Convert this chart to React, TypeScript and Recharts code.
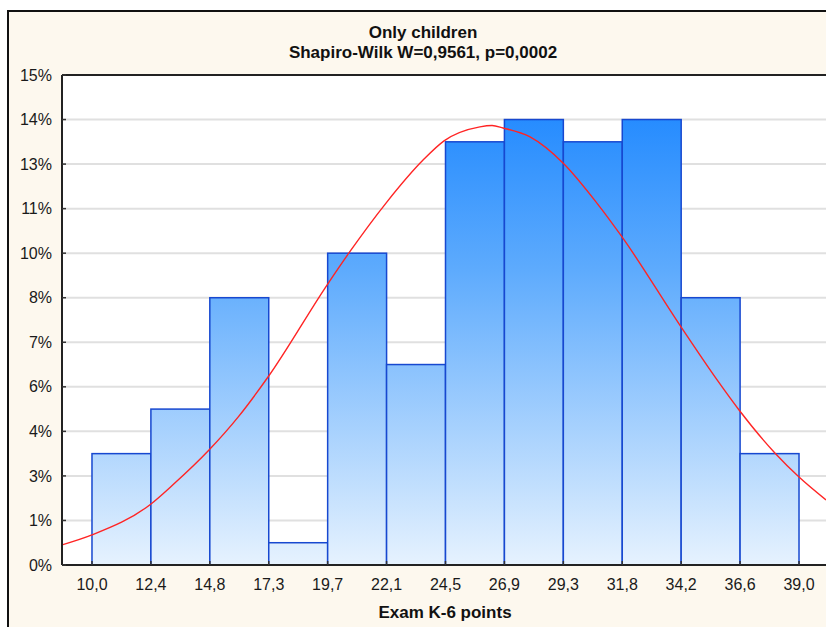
import React from 'react';
import { ComposedChart, Bar, Line, XAxis, YAxis, CartesianGrid } from 'recharts';

// histogram bins (Exam K-6 points), edges shown on the x axis
const binEdges = [10.0, 12.417, 14.833, 17.25, 19.667, 22.083, 24.5, 26.917, 29.333, 31.75, 34.167, 36.583, 39.0];
const xTickLabels = ['10,0', '12,4', '14,8', '17,3', '19,7', '22,1', '24,5', '26,9', '29,3', '31,8', '34,2', '36,6', '39,0'];

// number of children per bin (N = 144)
const binCounts = [5, 7, 12, 1, 14, 9, 19, 20, 19, 20, 12, 5];

// fitted normal curve (x, expected count)
const curveX = [8.77, 10.0, 12.42, 13.32, 14.8, 16.0, 17.22, 19.64, 20.54, 22.06, 23.58, 24.44, 25.91, 26.41, 26.86, 27.97, 29.32, 30.71, 31.74, 34.16, 35.64, 36.54, 38.01, 39.0, 40.11];
const curveY = [0.9, 1.35, 2.74, 3.6, 5.16, 6.65, 8.44, 12.57, 14.01, 16.25, 18.18, 19.04, 19.67, 19.73, 19.62, 19.22, 18.05, 16.25, 14.73, 10.69, 8.31, 6.96, 5.03, 3.95, 2.92];

// y axis: counts, labelled as percent of 144
const yTicks = [0, 2, 4, 6, 8, 10, 12, 14, 16, 18, 20, 22];
const yTickLabels = ['0%', '1%', '3%', '4%', '6%', '7%', '8%', '10%', '11%', '13%', '14%', '15%'];

const X_MIN = 8.77;
const X_MAX = 40.23;

const CHART_W = 840;
const CHART_H = 627;
const MARGIN = { top: 74, right: 10, bottom: 32, left: 0 };
const PLOT_LEFT = 62;
const PLOT_RIGHT = 829;
const PLOT_TOP = 75;
const PLOT_BOTTOM = 565;

const FONT = '"Liberation Sans", Arial, sans-serif';

const barData = binCounts.map((c, i) => ({ x: (binEdges[i] + binEdges[i + 1]) / 2, count: c }));
const curveData = curveX.map((x, i) => ({ x, curve: curveY[i] }));

// pixel width of one bin on the x scale
const barPx = ((PLOT_RIGHT - PLOT_LEFT) / (X_MAX - X_MIN)) * (binEdges[1] - binEdges[0]);

// recharts squeezes bars on a number axis, so widen them around their centre
const HistBar = (props: any) => {
    const { x, y, width, height } = props;
    if (height == null || height <= 0) return null;
    const cx = x + width / 2;
    return (
        <rect
            x={cx - barPx / 2}
            y={y}
            width={barPx}
            height={height}
            fill="url(#barFill)"
            stroke="#1748d0"
            strokeWidth={1.5}
        />
    );
};

const fmtX = (v: number) => {
    const i = binEdges.indexOf(v);
    return i >= 0 ? xTickLabels[i] : '';
};
const fmtY = (v: number) => {
    const i = yTicks.indexOf(v);
    return i >= 0 ? yTickLabels[i] : '';
};

const axisLine = { stroke: '#222', strokeWidth: 2 };
const tickLine = { stroke: '#333', strokeWidth: 1.5 };
const tickStyle = { fill: '#1a1a1a', fontSize: 16, fontFamily: FONT };

export default function App() {
    return (
        <div style={{ position: 'fixed', left: 0, top: 0, width: 826, height: 627, overflow: 'hidden', background: '#fff' }}>
            {/* outer frame */}
            <div
                style={{
                    position: 'absolute',
                    left: 7,
                    top: 10,
                    width: 900,
                    height: 700,
                    background: '#fdf8ee',
                    border: '2px solid #111',
                }}
            />
            <div
                style={{
                    position: 'absolute',
                    left: 0,
                    top: 23,
                    width: 846,
                    textAlign: 'center',
                    fontFamily: FONT,
                    fontWeight: 'bold',
                    fontSize: 17,
                    lineHeight: '20px',
                    color: '#111',
                }}
            >
                <div>Only children</div>
                <div>Shapiro-Wilk W=0,9561, p=0,0002</div>
            </div>
            <div style={{ position: 'absolute', left: 0, top: 0 }}>
                <ComposedChart width={CHART_W} height={CHART_H} data={barData} margin={MARGIN}>
                    <defs>
                        <linearGradient id="barFill" gradientUnits="userSpaceOnUse" x1={0} y1={PLOT_TOP} x2={0} y2={PLOT_BOTTOM}>
                            <stop offset="0%" stopColor="#1683ff" />
                            <stop offset="40%" stopColor="#5eabfd" />
                            <stop offset="100%" stopColor="#e6f2fe" />
                        </linearGradient>
                    </defs>
                    <CartesianGrid vertical={false} fill="#fff" stroke="#e0e0e0" strokeWidth={2} />
                    <XAxis
                        dataKey="x"
                        type="number"
                        domain={[X_MIN, X_MAX]}
                        allowDataOverflow
                        ticks={binEdges}
                        tickFormatter={fmtX}
                        interval={0}
                        height={30}
                        tickSize={-4}
                        tickMargin={18}
                        axisLine={axisLine}
                        tickLine={tickLine}
                        tick={tickStyle}
                    />
                    <XAxis
                        xAxisId="top"
                        orientation="top"
                        dataKey="x"
                        type="number"
                        domain={[X_MIN, X_MAX]}
                        allowDataOverflow
                        ticks={binEdges}
                        interval={0}
                        height={1}
                        tickSize={-4}
                        tick={false}
                        axisLine={axisLine}
                        tickLine={tickLine}
                    />
                    <YAxis
                        type="number"
                        domain={[0, 22]}
                        allowDataOverflow
                        ticks={yTicks}
                        tickFormatter={fmtY}
                        interval={0}
                        width={62}
                        tickSize={-4}
                        tickMargin={14}
                        axisLine={axisLine}
                        tickLine={tickLine}
                        tick={tickStyle}
                    />
                    <YAxis
                        yAxisId="right"
                        orientation="right"
                        type="number"
                        domain={[0, 22]}
                        allowDataOverflow
                        ticks={yTicks}
                        interval={0}
                        width={1}
                        tickSize={-4}
                        tick={false}
                        axisLine={axisLine}
                        tickLine={tickLine}
                    />
                    <Bar dataKey="count" shape={<HistBar />} isAnimationActive={false} />
                    <Line
                        data={curveData}
                        dataKey="curve"
                        type="monotone"
                        stroke="#ff2424"
                        strokeWidth={1.4}
                        dot={false}
                        isAnimationActive={false}
                    />
                </ComposedChart>
            </div>
            <div
                style={{
                    position: 'absolute',
                    left: 245,
                    top: 603,
                    width: 400,
                    textAlign: 'center',
                    fontFamily: FONT,
                    fontWeight: 'bold',
                    fontSize: 17,
                    lineHeight: '20px',
                    color: '#111',
                }}
            >
                Exam K-6 points
            </div>
        </div>
    );
}
